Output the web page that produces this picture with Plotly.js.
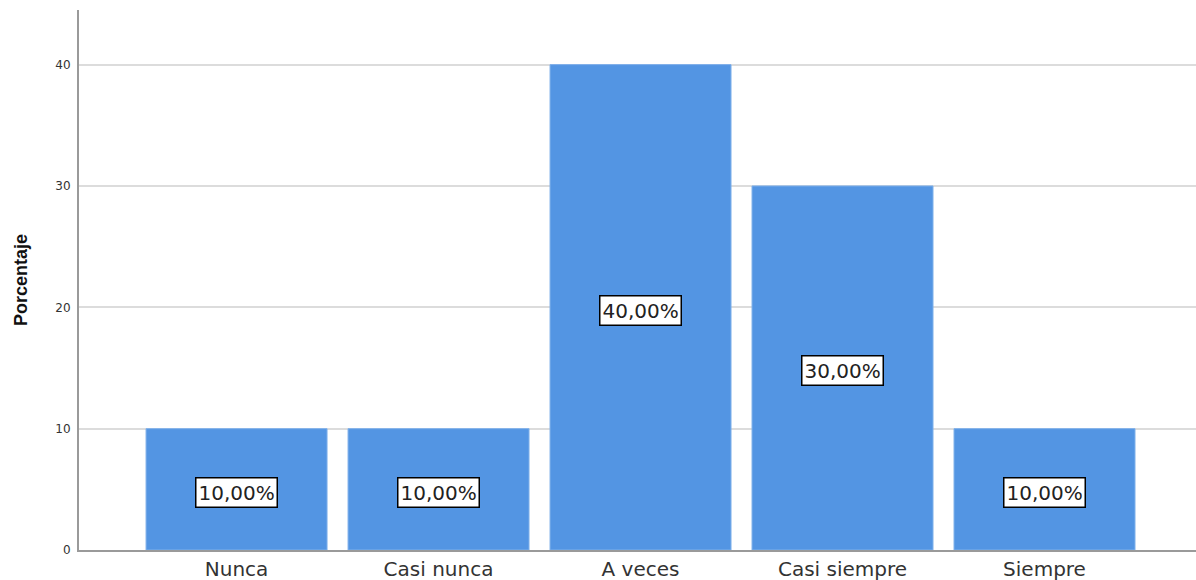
<!DOCTYPE html>
<html>
<head>
<meta charset="utf-8">
<script src="https://cdn.plot.ly/plotly-3.0.1.min.js"></script>
<style>html,body{margin:0;padding:0;background:#fff;}#chart{width:1196px;height:580px;}</style>
</head>
<body>
<div id="chart"></div>
<script>
const categories = ["Nunca", "Casi nunca", "A veces", "Casi siempre", "Siempre"];
const percentages = [10, 10, 40, 30, 10];
const yTickValues = [0, 10, 20, 30, 40];

const fmt = v => v.toFixed(2).replace('.', ',') + '%';

const trace = {
  type: 'bar',
  x: categories,
  y: percentages,
  marker: {color: '#5395e3', line: {color: '#7fb0ea', width: 1}},
  hoverinfo: 'none'
};

const annotations = categories.map((c, i) => ({
  x: c, y: percentages[i] / 2, xref: 'x', yref: 'y',
  text: fmt(percentages[i]),
  showarrow: false,
  bgcolor: '#ffffff',
  bordercolor: '#000000',
  borderwidth: 1.5,
  borderpad: 2,
  yshift: -3,
  font: {family: 'DejaVu Sans, sans-serif', size: 20, color: '#222'}
}));

const layout = {
  width: 1196, height: 580,
  margin: {l: 79, r: 0, t: 10, b: 30},
  paper_bgcolor: '#ffffff',
  plot_bgcolor: '#ffffff',
  bargap: 0.104,
  showlegend: false,
  xaxis: {
    type: 'category',
    range: [-0.78, 4.75],
    showgrid: false,
    zeroline: false,
    showline: true,
    linecolor: '#9a9a9a',
    linewidth: 2,
    ticks: '',
    tickfont: {family: 'DejaVu Sans, sans-serif', size: 20, color: '#333'},
    fixedrange: true
  },
  yaxis: {
    range: [0, 44.5],
    tickvals: yTickValues,
    ticktext: yTickValues.map(String),
    showgrid: true,
    gridcolor: '#dcdcdc',
    gridwidth: 2,
    zeroline: false,
    showline: true,
    linecolor: '#9a9a9a',
    linewidth: 2,
    ticks: '',
    ticklabelstandoff: 4,
    tickfont: {family: 'DejaVu Sans, sans-serif', size: 12, color: '#333'},
    title: {
      text: 'Porcentaje',
      font: {family: 'Liberation Sans, Arial, sans-serif', size: 18, color: '#111', weight: 'bold'},
      standoff: 23
    },
    fixedrange: true
  },
  annotations: annotations
};

Plotly.newPlot('chart', [trace], layout, {displayModeBar: false, staticPlot: true});
</script>
</body>
</html>
